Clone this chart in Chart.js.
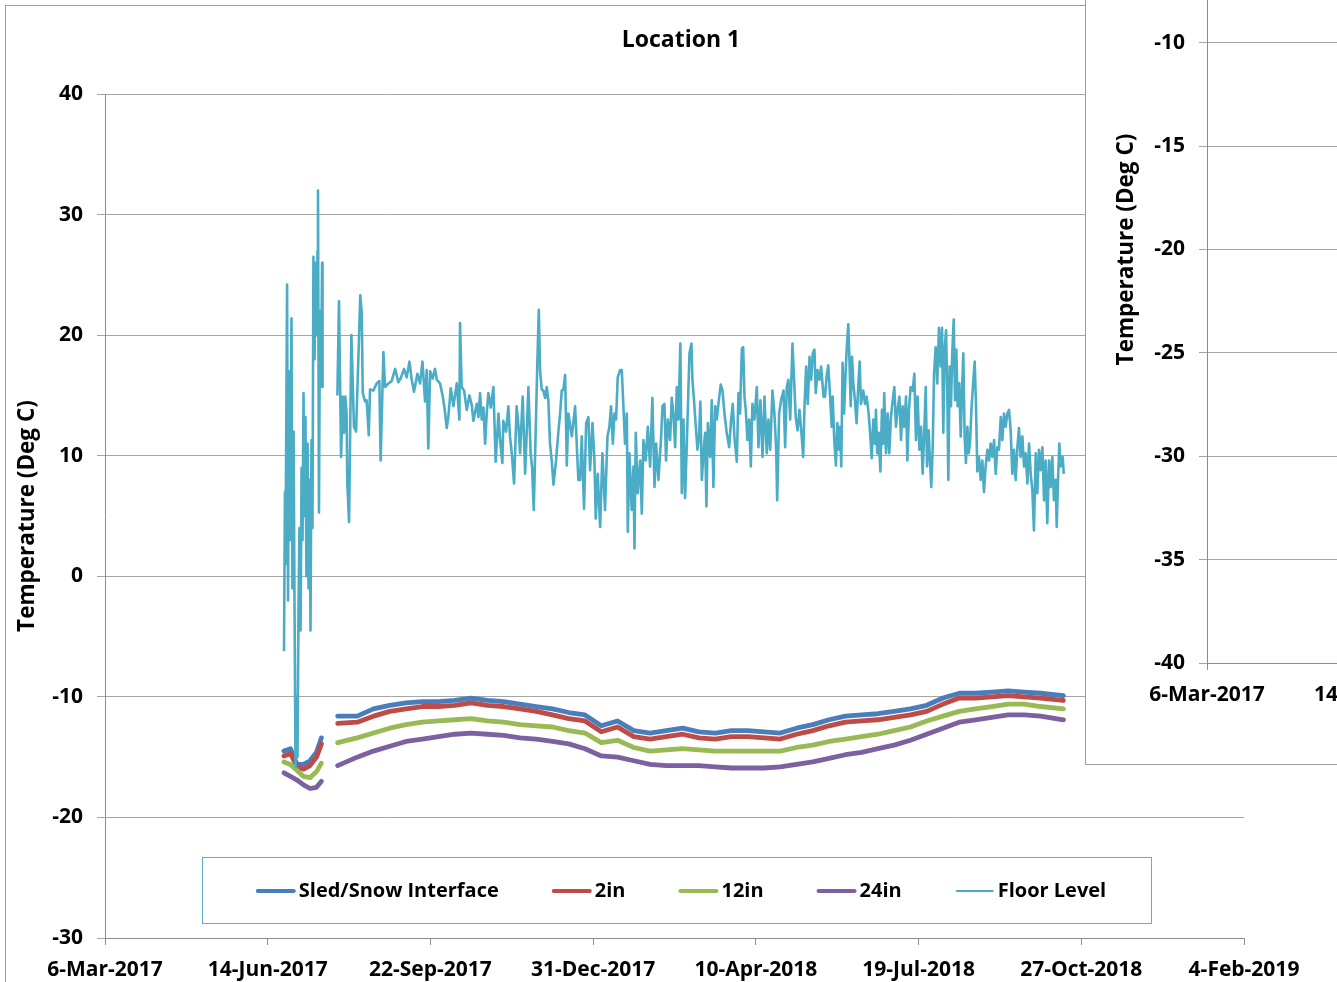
<!DOCTYPE html>
<html><head><meta charset="utf-8">
<script src="https://cdn.jsdelivr.net/npm/chart.js@4.4.0/dist/chart.umd.min.js"></script>
<style>
html,body{margin:0;padding:0;background:#fff;overflow:hidden;width:1337px;height:982px;position:relative}
#main{position:absolute;left:5px;top:5px;width:1350px;height:998px;border:1px solid #9d9d9d;background:#fff}
#over{position:absolute;left:1085px;top:-250px;width:1400px;height:1014px;border-left:1px solid #9d9d9d;border-bottom:1px solid #9d9d9d;background:#fff}
canvas{display:block}
</style></head>
<body>
<div id="main"><canvas id="c1" width="1350" height="998"></canvas></div>
<div id="over"><canvas id="c2" width="1400" height="1014"></canvas></div>
<script>
// ---------- data ----------
const chartTitle = 'Location 1';
const yTitle = 'Temperature (Deg C)';
const xTickLabels = ['6-Mar-2017','14-Jun-2017','22-Sep-2017','31-Dec-2017','10-Apr-2018','19-Jul-2018','27-Oct-2018','4-Feb-2019'];
const seriesNames = ['Sled/Snow Interface','2in','12in','24in','Floor Level'];

// days since 6-Mar-2017
const subDays = [110,114,118,122,126,130,133,138,143,155,165,175,185,195,205,215,225,235,245,255,265,275,285,295,305,315,325,335,345,355,365,375,385,395,405,415,425,435,445,455,465,475,485,495,505,515,525,535,545,555,565,575,589];
const sledVals = [-14.5,-14.3,-15.6,-15.6,-15.3,-14.6,-13.4,null,-11.6,-11.6,-11.0,-10.7,-10.5,-10.4,-10.4,-10.3,-10.1,-10.3,-10.4,-10.6,-10.8,-11.0,-11.3,-11.5,-12.4,-12.0,-12.8,-13.0,-12.8,-12.6,-12.9,-13.0,-12.8,-12.8,-12.9,-13.0,-12.6,-12.3,-11.9,-11.6,-11.5,-11.4,-11.2,-11.0,-10.7,-10.1,-9.7,-9.7,-9.6,-9.5,-9.6,-9.7,-9.9];
const in2Vals = [-14.9,-14.7,-15.8,-16.0,-15.7,-15.0,-13.9,null,-12.2,-12.1,-11.6,-11.2,-11.0,-10.8,-10.8,-10.7,-10.5,-10.7,-10.8,-11.0,-11.2,-11.5,-11.8,-12.0,-12.9,-12.5,-13.3,-13.5,-13.3,-13.1,-13.4,-13.5,-13.3,-13.3,-13.4,-13.5,-13.1,-12.8,-12.4,-12.1,-12.0,-11.9,-11.7,-11.5,-11.2,-10.6,-10.1,-10.1,-10.0,-9.9,-10.0,-10.1,-10.3];
const in12Vals = [-15.4,-15.6,-16.1,-16.6,-16.7,-16.2,-15.5,null,-13.8,-13.4,-13.0,-12.6,-12.3,-12.1,-12.0,-11.9,-11.8,-12.0,-12.1,-12.3,-12.4,-12.5,-12.8,-13.0,-13.8,-13.6,-14.2,-14.5,-14.4,-14.3,-14.4,-14.5,-14.5,-14.5,-14.5,-14.5,-14.2,-14.0,-13.7,-13.5,-13.3,-13.1,-12.8,-12.5,-12.0,-11.6,-11.2,-11.0,-10.8,-10.6,-10.6,-10.8,-11.0];
const in24Vals = [-16.3,-16.6,-16.9,-17.3,-17.6,-17.5,-17.0,null,-15.7,-15.0,-14.5,-14.1,-13.7,-13.5,-13.3,-13.1,-13.0,-13.1,-13.2,-13.4,-13.5,-13.7,-13.9,-14.3,-14.9,-15.0,-15.3,-15.6,-15.7,-15.7,-15.7,-15.8,-15.9,-15.9,-15.9,-15.8,-15.6,-15.4,-15.1,-14.8,-14.6,-14.3,-14.0,-13.6,-13.1,-12.6,-12.1,-11.9,-11.7,-11.5,-11.5,-11.6,-11.9];

const floorDays = [110.0,110.6,110.9,111.9,112.5,113.1,113.7,114.6,115.2,115.9,116.5,117.1,117.7,118.3,118.9,119.5,120.2,120.8,121.4,122.0,122.6,123.2,123.8,124.5,125.1,125.7,126.3,126.9,127.5,128.1,128.8,129.4,130.0,130.6,130.9,131.5,132.1,132.8,133.4,133.7,138,
142.8,143.8,145.1,146.1,146.9,147.7,148.5,148.9,150.0,151.4,152.2,153.0,154.3,155.7,156.9,157.8,158.4,159.8,160.8,162.1,162.9,164.9,167.0,168.6,169.4,171.1,172.1,174.2,176.2,178.3,180.3,181.7,183.8,185.4,187.1,188.5,189.9,192.0,193.6,195.1,196.7,197.7,198.7,199.8,201.4,202.8,203.9,205.9,207.6,209.0,210.0,211.0,212.5,214.1,216.2,217.8,218.2,219.2,220.7,222.3,223.9,225.4,226.4,228.5,229.5,230.5,231.5,232.6,233.6,234.6,235.6,237.1,238.7,240.1,241.8,242.8,244.2,244.8,246.5,247.9,248.9,250.0,251.4,253.0,254.1,255.1,256.7,258.2,259.2,260.2,261.6,262.5,263.5,264.5,265.7,266.6,267.4,268.4,269.4,270.5,271.5,272.5,273.5,274.6,275.6,277.2,278.7,279.7,280.7,281.7,282.8,283.8,284.8,286.9,288.9,290.9,
292.0,293.0,294.4,295.7,297.1,298.1,299.6,300.8,301.6,302.8,304.3,305.7,307.3,308.8,310.0,311.0,312.1,313.1,314.1,315.1,316.6,317.6,318.6,319.6,320.7,321.3,322.3,323.7,324.8,325.4,326.2,327.4,328.9,329.9,330.9,332.3,333.6,335.0,336.4,337.7,338.7,340.1,341.8,342.6,343.8,344.8,345.9,347.3,348.3,349.3,350.4,351.4,352.4,353.6,354.5,355.5,356.5,357.5,359.2,360.4,361.0,362.0,363.1,364.1,365.1,365.9,366.8,367.8,368.8,369.6,370.5,371.9,372.9,373.9,375.0,376.0,377.0,378.4,379.5,380.7,382.1,383.6,384.8,385.8,386.8,388.3,389.3,390.3,391.4,392.2,393.0,393.8,394.8,395.9,396.9,397.9,399.1,400.6,401.6,402.8,404.1,405.3,406.7,407.7,408.8,410.2,411.4,412.5,413.1,414.3,415.5,417.0,418.0,419.0,420.0,421.1,422.5,423.5,424.5,425.6,426.8,428.0,429.1,429.9,430.9,431.9,433.0,434.0,435.0,436.0,436.8,437.9,439.1,440.1,441.6,
442.5,443.5,444.5,445.5,446.6,447.2,448.2,449.2,450.1,451.1,451.7,452.5,453.3,454.2,455.0,455.8,456.8,457.4,458.3,459.1,459.9,460.9,461.9,463.0,463.8,464.6,466.0,467.1,468.1,469.3,470.1,471.2,472.2,473.2,473.8,474.6,475.5,476.5,477.5,478.3,478.9,480.0,481.0,482.0,483.0,484.1,485.1,486.1,487.1,488.2,489.2,490.2,491.2,492.3,493.1,494.1,495.1,496.4,497.4,498.4,499.4,500.5,501.5,502.5,503.3,504.4,505.2,506.2,507.0,507.8,508.7,509.5,510.5,511.5,512.5,513.6,514.4,515.2,516.0,516.9,517.7,518.3,519.1,519.9,520.7,521.6,522.4,523.2,524.0,525.0,525.9,526.7,527.5,528.3,529.1,530.0,530.8,531.6,532.6,533.7,534.5,535.3,536.1,537.1,538.2,539.2,540.2,541.2,542.3,543.3,544.3,545.3,546.4,547.4,548.4,549.4,550.5,551.5,552.5,553.5,554.6,555.6,556.6,557.6,558.6,559.7,560.7,561.7,562.7,563.8,564.8,565.8,566.9,567.9,568.9,569.9,570.9,572.0,573.0,574.0,575.0,576.1,577.1,578.1,579.1,580.2,581.2,582.2,583.2,584.3,584.9,585.7,586.5,587.3,588.6,589.2];
const floorTemps = [-6.2,7.0,1.0,24.2,-2.0,17.0,3.0,21.4,-1.0,12.0,-3.0,-15.8,-10.0,-15.0,-3.0,4.0,-4.5,9.0,3.0,15.2,5.0,13.2,0.0,11.0,-1.0,8.0,-4.5,11.3,4.0,26.5,18.0,26.0,20.0,27.0,32.0,5.3,22.0,15.7,26.0,15.7,null,
15.0,22.8,9.9,14.9,11.9,14.9,13.5,7.7,4.5,20.0,16.3,12.4,12.0,18.0,23.3,21.8,15.2,14.5,14.6,11.7,15.5,15.4,16.0,16.2,9.6,18.6,15.7,16.0,16.2,17.2,16.1,16.4,17.2,16.5,17.8,16.3,15.3,16.8,16.0,17.8,14.5,17.1,10.6,17.0,16.4,17.2,16.3,16.0,14.9,13.6,12.3,13.2,15.6,14.1,16.0,13.0,21.0,15.7,15.4,13.8,15.0,14.2,12.9,14.3,13.2,15.2,13.0,14.0,11.0,13.5,15.2,14.0,15.7,9.5,13.5,11.3,9.4,12.9,12.0,14.1,11.6,10.2,7.7,14.1,12.5,10.2,14.9,8.5,12.0,15.7,10.2,9.0,5.5,11.0,17.7,22.1,17.0,15.5,15.4,14.8,15.7,14.5,11.0,9.5,7.6,9.6,12.1,13.5,15.4,15.5,16.7,9.2,13.5,11.6,14.1,8.0,
8.0,11.6,5.6,12.7,13.2,8.8,12.7,9.6,4.8,8.5,4.1,10.2,5.5,11.6,12.4,14.1,11.0,13.5,13.0,16.5,17.1,17.1,14.1,11.0,13.5,3.7,10.2,5.5,9.1,2.3,11.9,6.9,9.6,5.2,11.3,9.6,12.4,9.1,14.8,7.4,11.0,8.0,11.6,14.1,14.3,9.6,13.0,11.3,14.8,13.5,10.7,15.7,13.0,19.3,6.9,13.0,6.5,10.7,18.5,19.3,16.3,14.6,12.4,10.5,11.6,14.5,8.0,10.2,11.9,5.8,12.7,9.9,14.6,7.4,14.1,13.0,14.3,15.9,15.4,13.5,11.9,10.7,13.0,14.3,11.6,9.5,15.2,13.5,18.9,19.0,14.9,13.8,11.3,13.0,9.1,14.3,13.0,15.7,10.7,14.6,9.9,14.9,10.2,13.0,10.5,15.4,13.5,10.5,6.3,13.5,14.6,15.4,10.7,15.7,16.3,13.0,19.3,16.3,13.2,12.1,13.8,11.9,9.9,14.1,17.4,14.3,18.2,16.3,18.5,18.8,15.2,17.1,16.3,17.4,14.9,
14.9,16.6,17.5,15.2,12.4,14.9,11.3,9.2,12.7,10.5,12.4,9.1,17.7,13.5,16.3,18.8,20.9,18.5,14.1,18.2,16.0,14.6,12.7,16.0,17.8,14.3,15.4,14.3,14.9,13.5,12.1,9.8,13.0,11.0,13.8,10.2,11.9,8.7,13.8,11.0,15.2,10.2,13.5,10.2,13.2,14.6,15.7,12.4,13.8,14.9,11.3,14.1,12.4,14.9,9.6,13.8,15.7,15.4,16.8,11.3,14.9,10.5,12.4,8.5,11.3,15.7,9.1,12.1,9.6,7.4,10.7,16.8,19.0,16.0,20.6,17.4,20.6,11.9,18.8,20.4,14.6,8.0,17.4,14.1,18.5,21.3,14.6,18.8,14.1,16.0,11.6,15.4,18.5,11.6,9.4,12.4,10.2,11.0,14.1,16.3,17.8,14.1,8.7,9.9,8.0,9.6,7.0,9.1,10.5,9.6,11.0,9.9,11.3,8.5,10.7,10.5,13.2,11.3,13.5,12.4,13.5,13.8,12.1,8.5,10.5,8.0,10.7,12.3,9.9,11.6,9.1,10.2,7.7,11.0,8.5,7.2,3.8,10.2,6.9,10.5,8.8,10.7,6.3,9.6,4.4,9.6,7.4,9.9,6.3,8.0,4.1,8.0,11.0,9.1,9.9,8.5];

// ---------- styling ----------
const FONT = '"Open Sans", "DejaVu Sans", sans-serif';
const GRID = '#a6a6a6';
const AXIS = '#8c8c8c';
const colors = ['#4a7ebb','#be4b48','#98b954','#7d60a0','#4bacc6'];
const widths = [4.8,4.8,4.8,4.8,2.6];

const pts = (xs, ys) => xs.map((x, i) => ({x: x, y: ys[i]}));
const subSeries = [sledVals, in2Vals, in12Vals, in24Vals];

const datasets = subSeries.map((vals, i) => ({
  label: seriesNames[i], data: pts(subDays, vals),
  borderColor: colors[i], backgroundColor: colors[i], borderWidth: widths[i],
  pointRadius: 0, tension: 0, spanGaps: false, order: 5 - i,
  borderJoinStyle: 'round', borderCapStyle: 'round'
}));
datasets.push({
  label: seriesNames[4], data: pts(floorDays, floorTemps),
  borderColor: colors[4], backgroundColor: colors[4], borderWidth: widths[4],
  pointRadius: 0, tension: 0, spanGaps: false, order: 0,
  borderJoinStyle: 'round'
});

const tickFont = {family: FONT, size: 21, weight: 'bold'};

const titlePlugin = {
  id: 'topTitle',
  afterDraw(chart) {
    const ctx = chart.ctx;
    ctx.save();
    ctx.font = 'bold 23px ' + FONT;
    ctx.fillStyle = '#000';
    ctx.textAlign = 'center';
    ctx.textBaseline = 'middle';
    ctx.fillText(chartTitle, chart.width / 2, 34);
    ctx.restore();
  }
};

const legendPlugin = {
  id: 'boxLegend',
  afterDraw(chart) {
    const ctx = chart.ctx;
    ctx.save();
    ctx.fillStyle = '#fff';
    ctx.fillRect(196, 851, 949, 66);
    ctx.strokeStyle = '#5ab3cb';
    ctx.lineWidth = 1;
    ctx.strokeRect(196.5, 851.5, 949, 66);
    ctx.font = 'bold 20px ' + FONT;
    const items = chart.data.datasets.map(d => ({label: d.label, color: d.borderColor, w: d.borderWidth}));
    const sample = 40, gap = 3, sep = 53;
    let total = 0;
    items.forEach((it, i) => {
      it.tw = ctx.measureText(it.label).width;
      total += sample + gap + it.tw + (i < items.length - 1 ? sep : 0);
    });
    let x = 675 - total / 2;
    const y = 885;
    ctx.textBaseline = 'middle';
    ctx.textAlign = 'left';
    items.forEach(it => {
      ctx.strokeStyle = it.color;
      ctx.lineWidth = it.w > 3 ? 4 : 2;
      ctx.lineCap = 'round';
      ctx.beginPath();
      ctx.moveTo(x + 2, y);
      ctx.lineTo(x + sample - 2, y);
      ctx.stroke();
      ctx.fillStyle = '#000';
      ctx.fillText(it.label, x + sample + gap, y);
      x += sample + gap + it.tw + sep;
    });
    ctx.restore();
  }
};

function xScale(height) {
  return {
    type: 'linear', min: 0, max: 700,
    ticks: {stepSize: 100, autoSkip: false, maxRotation: 0, font: tickFont, color: '#000', padding: 12,
      callback: (v, i) => xTickLabels[Math.round(v / 100)]},
    grid: {drawOnChartArea: false, drawTicks: true, tickLength: 7, color: AXIS},
    border: {display: true, color: AXIS, width: 1},
    afterFit: s => { s.height = height; s.paddingLeft = 0; s.paddingRight = 0; }
  };
}

new Chart(document.getElementById('c1'), {
  type: 'line',
  data: {datasets: datasets},
  options: {
    responsive: false, animation: false,
    layout: {padding: {top: 88, right: 112, left: 0, bottom: 0}},
    plugins: {legend: {display: false}, title: {display: false}, tooltip: {enabled: false}},
    scales: {
      x: xScale(66),
      y: {
        min: -30, max: 40,
        ticks: {stepSize: 10, font: tickFont, color: '#000', padding: 14},
        grid: {color: GRID, tickLength: 8, drawTicks: true},
        border: {display: true, color: AXIS},
        title: {display: true, text: yTitle, color: '#000', font: {family: FONT, size: 22.5, weight: 'bold'}, padding: {top: 8, bottom: 0}},
        afterFit: s => { s.width = 99; s.paddingTop = 0; s.paddingBottom = 0; }
      }
    }
  },
  plugins: [titlePlugin, legendPlugin]
});

new Chart(document.getElementById('c2'), {
  type: 'line',
  data: {datasets: []},
  options: {
    responsive: false, animation: false,
    layout: {padding: {top: 86, right: 110, left: 0, bottom: 0}},
    plugins: {legend: {display: false}, title: {display: false}, tooltip: {enabled: false}},
    scales: {
      x: xScale(101),
      y: {
        min: -40, max: 0,
        ticks: {stepSize: 5, font: tickFont, color: '#000', padding: 14},
        grid: {color: GRID, tickLength: 8, drawTicks: true},
        border: {display: true, color: AXIS},
        title: {display: true, text: yTitle, color: '#000', font: {family: FONT, size: 22.5, weight: 'bold'}, padding: {top: 27, bottom: 0}},
        afterFit: s => { s.width = 121; s.paddingTop = 0; s.paddingBottom = 0; }
      }
    }
  }
});
</script>
</body></html>
